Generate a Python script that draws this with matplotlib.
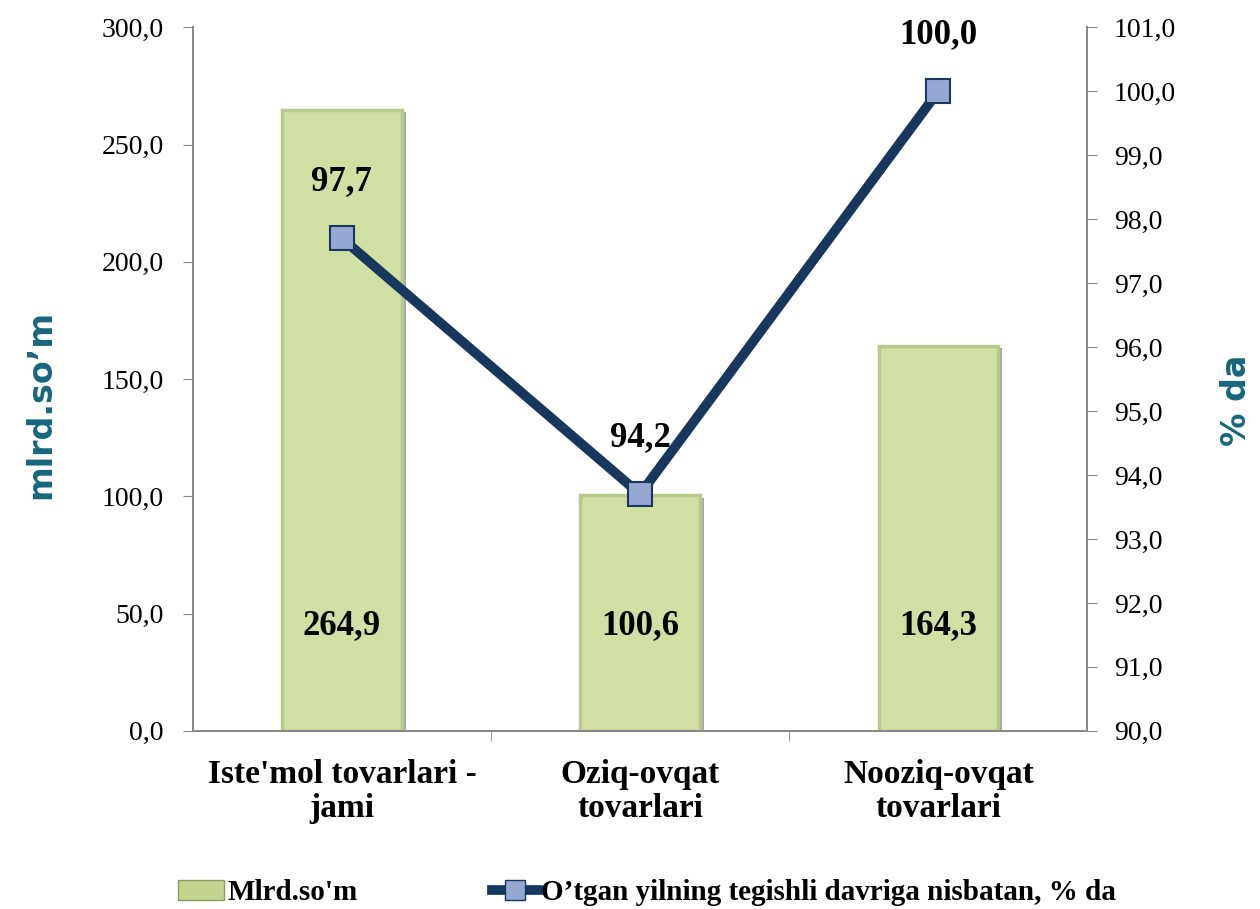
import matplotlib.pyplot as plt
import matplotlib.patheffects as pe
from matplotlib.lines import Line2D
from matplotlib.patches import Patch
import numpy as np

categories = ["Iste'mol tovarlari -\njami", "Oziq-ovqat\ntovarlari", "Nooziq-ovqat\ntovarlari"]
mlrd_som = [264.9, 100.6, 164.3]   # bars, left axis
percent = [97.7, 93.7, 100.0]      # line, right axis (as plotted)
percent_labels = ["97,7", "94,2", "100,0"]

serif = ['Liberation Serif', 'DejaVu Serif']
teal = '#17667E'

fig = plt.figure(figsize=(12.6, 9.09), dpi=100)
ax = fig.add_axes([0.153, 0.196, 0.710, 0.774])
ax2 = ax.twinx()

x = np.arange(len(categories))
bars = ax.bar(x, mlrd_som, 0.4, color='#D0E0A2', edgecolor='#B8C98C', linewidth=2.5, zorder=2)
for b in bars:
    b.set_path_effects([pe.SimplePatchShadow(offset=(3, -2), shadow_rgbFace='#555555', alpha=0.5), pe.Normal()])

for xi, v in zip(x, mlrd_som):
    ax.text(xi, 45, f"{v:.1f}".replace('.', ','), ha='center', va='center',
            fontsize=25, fontweight='bold', family=serif, zorder=5)

ax2.plot(x, percent, color='#17375E', linewidth=7, marker='s', markersize=17,
         markerfacecolor='#95A8D3', markeredgecolor='#17375E', markeredgewidth=1.5, zorder=4)
for xi, v, lab in zip(x, percent, percent_labels):
    ax2.text(xi, v + 0.88, lab, ha='center', va='center', fontsize=25,
             fontweight='bold', family=serif)

ax.set_xlim(-0.5, 2.5)
ax.set_ylim(0, 300)
ax.set_yticks(np.arange(0, 301, 50))
ax.set_yticklabels([f"{t:.1f}".replace('.', ',') for t in np.arange(0, 301, 50)],
                   fontsize=20, family=serif)
ax2.set_ylim(90, 101)
ax2.set_yticks(np.arange(90, 102, 1))
ax2.set_yticklabels([f"{t:.1f}".replace('.', ',') for t in np.arange(90, 102, 1)],
                    fontsize=20, family=serif)

ax.set_xticks(x)
ax.set_xticklabels(categories, fontsize=24, fontweight='bold', family=serif, linespacing=1.15)
ax.tick_params(axis='x', length=0, pad=20)
ax.set_xticks([0.5, 1.5], minor=True)
ax.tick_params(axis='x', which='minor', length=7, color='#888888')
ax.tick_params(axis='y', length=7, color='#888888', pad=14)
ax2.tick_params(axis='y', length=7, color='#888888', pad=12)

for a in (ax, ax2):
    a.spines['top'].set_visible(False)
    for s in ('left', 'right', 'bottom'):
        a.spines[s].set_color('#888888')
        a.spines[s].set_linewidth(1.3)

fig.text(0.032, 0.555, "mlrd.so\u2019m", rotation=90, ha='center', va='center',
         fontsize=24, fontweight='bold', color=teal, family='DejaVu Sans')
fig.text(0.981, 0.56, "% da", rotation=90, ha='center', va='center',
         fontsize=24, fontweight='bold', color=teal, family='DejaVu Sans')

handles = [Patch(facecolor='#C2D48E', edgecolor='#8A9C5A'),
           Line2D([], [], color='#17375E', linewidth=7, marker='s', markersize=15,
                  markerfacecolor='#95A8D3', markeredgecolor='#17375E')]
fig.legend(handles, ["Mlrd.so'm", "O\u2019tgan yilning tegishli davriga nisbatan, % da"],
           loc='center left', bbox_to_anchor=(0.141, 0.018), ncol=2, frameon=False,
           prop={'family': serif, 'weight': 'bold', 'size': 21}, borderpad=0,
           borderaxespad=0, handlelength=1.6, handletextpad=0.1, columnspacing=4.6)

fig.savefig('out.png', dpi=100)
